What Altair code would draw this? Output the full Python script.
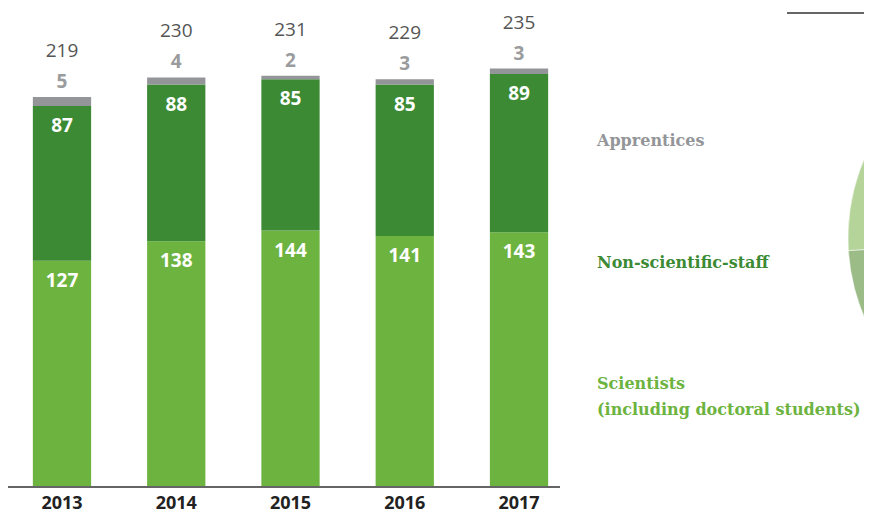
import altair as alt
import pandas as pd

years = ["2013", "2014", "2015", "2016", "2017"]
scientists = [127, 138, 144, 141, 143]
non_scientific = [87, 88, 85, 85, 89]
apprentices = [5, 4, 2, 3, 3]
totals = [219, 230, 231, 229, 235]

legend_labels = ["Apprentices", "Non-scientific-staff", "Scientists", "(including doctoral students)"]
pie_categories = ["dark", "light"]
pie_values = [74, 26]

C_SCI = "#6db33f"
C_NON = "#3c8a34"
C_APP = "#939598"

rows = []
for i, y in enumerate(years):
    s, n, a = scientists[i], non_scientific[i], apprentices[i]
    rows.append(dict(year=y, cat="Scientists", y0=0, y1=s, v=s))
    rows.append(dict(year=y, cat="Non-scientific-staff", y0=s, y1=s + n, v=n))
    rows.append(dict(year=y, cat="Apprentices", y0=s + n, y1=s + n + a, v=a))
df = pd.DataFrame(rows)
tot = pd.DataFrame(dict(year=years, total=totals))

xs = alt.X("year:O", axis=None,
           scale=alt.Scale(range=[2, 563], paddingInner=0.49, paddingOuter=0.2))
yscale = alt.Scale(domain=[0, 269], range=[479, 0])

bars = alt.Chart(df).mark_bar().encode(
    x=xs,
    y=alt.Y("y0:Q", scale=yscale, axis=None),
    y2="y1:Q",
    color=alt.Color("cat:N", legend=None,
                    scale=alt.Scale(domain=["Scientists", "Non-scientific-staff", "Apprentices"],
                                    range=[C_SCI, C_NON, C_APP])),
)

inner = alt.Chart(df[df.cat != "Apprentices"]).mark_text(
    font="Open Sans", fontWeight="bold", fontSize=19, color="white", baseline="middle", dy=20
).encode(x=xs, y=alt.Y("y1:Q", scale=yscale), text="v:Q")

app_lbl = alt.Chart(df[df.cat == "Apprentices"]).mark_text(
    font="Open Sans", fontWeight="bold", fontSize=19, color="#9a9b9d", baseline="middle", dy=-15
).encode(x=xs, y=alt.Y("y1:Q", scale=yscale), text="v:Q")

tot_lbl = alt.Chart(tot).mark_text(
    font="Open Sans", fontSize=19, color="#555555", baseline="middle", dy=-46
).encode(x=xs, y=alt.Y("total:Q", scale=yscale), text="total:Q")

year_lbl = alt.Chart(tot).mark_text(
    font="Open Sans", fontWeight="bold", fontSize=18, color="#222222", baseline="middle"
).encode(x=xs, y=alt.value(496), text="year:N")

baseline = alt.Chart(tot).mark_rule(color="#666666", strokeWidth=1.5).encode(
    x=alt.value(-1), x2=alt.value(552), y=alt.datum(0, scale=yscale)
)

top_rule = alt.Chart(tot).mark_rule(color="#666666", strokeWidth=1.5).encode(
    x=alt.value(779), x2=alt.value(860), y=alt.value(5)
)

leg_df = pd.DataFrame(dict(
    label=legend_labels,
    ypos=[133, 255, 376, 402],
    col=[C_APP, C_NON, C_SCI, C_SCI],
))
legend_text = alt.Chart(leg_df).mark_text(
    font="DejaVu Serif", fontWeight="bold", fontSize=16, align="left", baseline="middle"
).encode(
    x=alt.value(589),
    y=alt.Y("ypos:Q", scale=None),
    text="label:N",
    color=alt.Color("col:N", scale=None),
)

pie_df = pd.DataFrame(dict(cat=pie_categories, val=pie_values))
pie = alt.Chart(pie_df).mark_arc(radius=200, clip=True, stroke="white", strokeWidth=0.5).encode(
    theta=alt.Theta("val:Q", stack=True),
    color=alt.Color("cat:N", legend=None,
                    scale=alt.Scale(domain=pie_categories, range=["#9bbb87", "#b5d49a"])),
    x=alt.value(1040),
    y=alt.value(230),
)

chart = alt.layer(
    pie, bars, baseline, inner, app_lbl, tot_lbl, year_lbl, top_rule, legend_text
).resolve_scale(color="independent").properties(
    width=856, height=507, padding=0,
    autosize=alt.AutoSizeParams(type="none"),
).configure_view(strokeWidth=0)

chart.save("out.html", embed_options={"renderer": "svg", "actions": False})
